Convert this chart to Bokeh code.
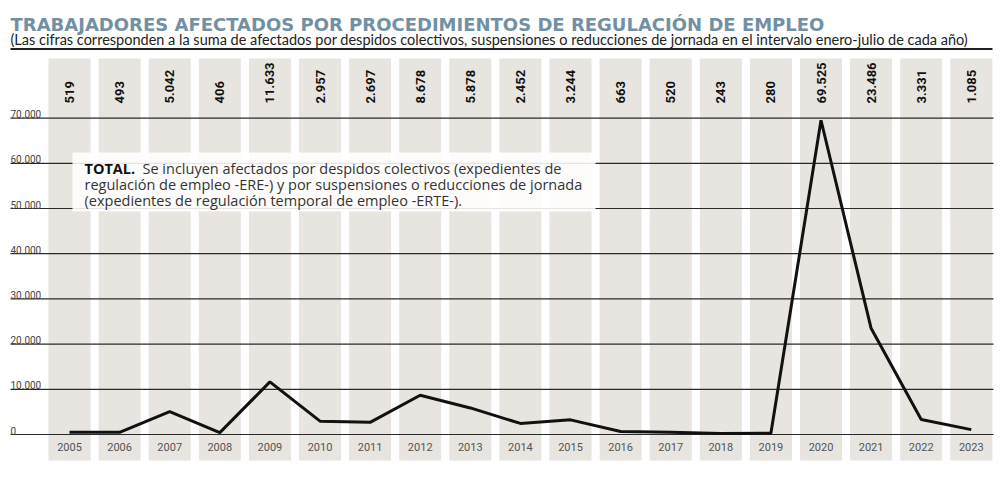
import math
from bokeh.plotting import figure
from bokeh.models import Range1d
from bokeh.core.properties import value
from bokeh.embed import file_html
from bokeh.resources import INLINE

# ---- data ----
years = ["2005", "2006", "2007", "2008", "2009", "2010", "2011", "2012", "2013", "2014",
         "2015", "2016", "2017", "2018", "2019", "2020", "2021", "2022", "2023"]
afectados = [519, 493, 5042, 406, 11633, 2957, 2697, 8678, 5878, 2452,
             3244, 663, 520, 243, 280, 69525, 23486, 3331, 1085]
value_labels = ["519", "493", "5.042", "406", "11.633", "2.957", "2.697", "8.678", "5.878", "2.452",
                "3.244", "663", "520", "243", "280", "69.525", "23.486", "3.331", "1.085"]
y_ticks = [0, 10000, 20000, 30000, 40000, 50000, 60000, 70000]
y_tick_labels = ["0", "10.000", "20.000", "30.000", "40.000", "50.000", "60.000", "70.000"]

title = "TRABAJADORES AFECTADOS POR PROCEDIMIENTOS DE REGULACIÓN DE EMPLEO"
subtitle = ("(Las cifras corresponden a la suma de afectados por despidos colectivos, "
            "suspensiones o reducciones de jornada en el intervalo enero-julio de cada año)")
note_bold = "TOTAL."
note_lines = ["Se incluyen afectados por despidos colectivos (expedientes de",
              "regulación de empleo -ERE-) y por suspensiones o reducciones de jornada",
              "(expedientes de regulación temporal de empleo -ERTE-)."]

# ---- layout helpers (page pixels -> data space) ----
W, H = 994, 472
OX, OY = 0, 0                 # page position of the figure
X0, DX = 69.0, 50.1           # page x of first column centre, column pitch
Y0, DY = 434.0, 45.2 / 10000  # page y of zero line, px per unit


def px(p):
    return (p - X0) / DX


def py(p):
    return (Y0 - p) / DY


idx = list(range(len(years)))

p = figure(width=W, height=H, output_backend="svg", toolbar_location=None,
           x_range=Range1d(px(OX), px(OX + W)), y_range=Range1d(py(OY + H), py(OY)),
           min_border=0, min_border_left=0, min_border_right=0,
           min_border_top=0, min_border_bottom=0)
p.axis.visible = False
p.grid.visible = False
p.outline_line_color = None
p.background_fill_color = "white"
p.border_fill_color = "white"

# column stripes
p.vbar(x=idx, width=42 / DX, top=py(58), bottom=py(460),
       fill_color="#e8e4df", line_color=None)

# gridlines
p.segment(x0=[px(10)] * len(y_ticks), x1=[px(993)] * len(y_ticks), y0=y_ticks, y1=y_ticks,
          line_color="#2a2a2a", line_width=1.2)

# y tick labels
p.text(x=[px(10)] * len(y_ticks), y=y_ticks, text=y_tick_labels, y_offset=-4,
       text_font=value("Roboto"), text_font_size="10px", text_color="#444444",
       text_align="left", text_baseline="alphabetic")

# rule under subtitle
p.segment(x0=[px(10)], x1=[px(992)], y0=[py(48.5)], y1=[py(48.5)],
          line_color="#222222", line_width=2)

# title & subtitle
p.text(x=[px(10)], y=[py(23.5)], text=[title], text_font=value("DejaVu Sans"),
       text_font_style="bold", text_font_size="18px", text_color="#7190a4",
       text_align="left", text_baseline="alphabetic")
p.text(x=[px(10)], y=[py(38.5)], text=[subtitle], text_font=value("Lato"),
       text_font_size="14.5px", text_color="#222222",
       text_align="left", text_baseline="alphabetic")

# value labels at top of columns
p.text(x=idx, y=[py(103)] * len(idx), text=value_labels, angle=math.pi / 2,
       text_font=value("Roboto"), text_font_style="bold", text_font_size="13px",
       text_color="#111111", text_align="left", text_baseline="middle")

# year labels
p.text(x=idx, y=[py(446)] * len(idx), text=years,
       text_font=value("Roboto"), text_font_size="11px", text_color="#555555",
       text_align="center", text_baseline="middle")

# annotation box
p.quad(left=[px(72)], right=[px(595)], top=[py(152)], bottom=[py(211)],
       fill_color="white", fill_alpha=0.88, line_color=None)
p.text(x=[px(84)], y=[py(168)], text=[note_bold], text_font=value("Open Sans"),
       text_font_style="bold", text_font_size="14.5px", text_color="#111111",
       text_align="left", text_baseline="middle")
p.text(x=[px(142), px(84), px(84)], y=[py(168), py(184), py(200)], text=note_lines,
       text_font=value("Open Sans"), text_font_size="14.5px", text_color="#333333",
       text_align="left", text_baseline="middle")

# data line
p.line(x=idx, y=afectados, line_color="#111111", line_width=3)

open("out.html", "w").write(file_html(p, INLINE))
